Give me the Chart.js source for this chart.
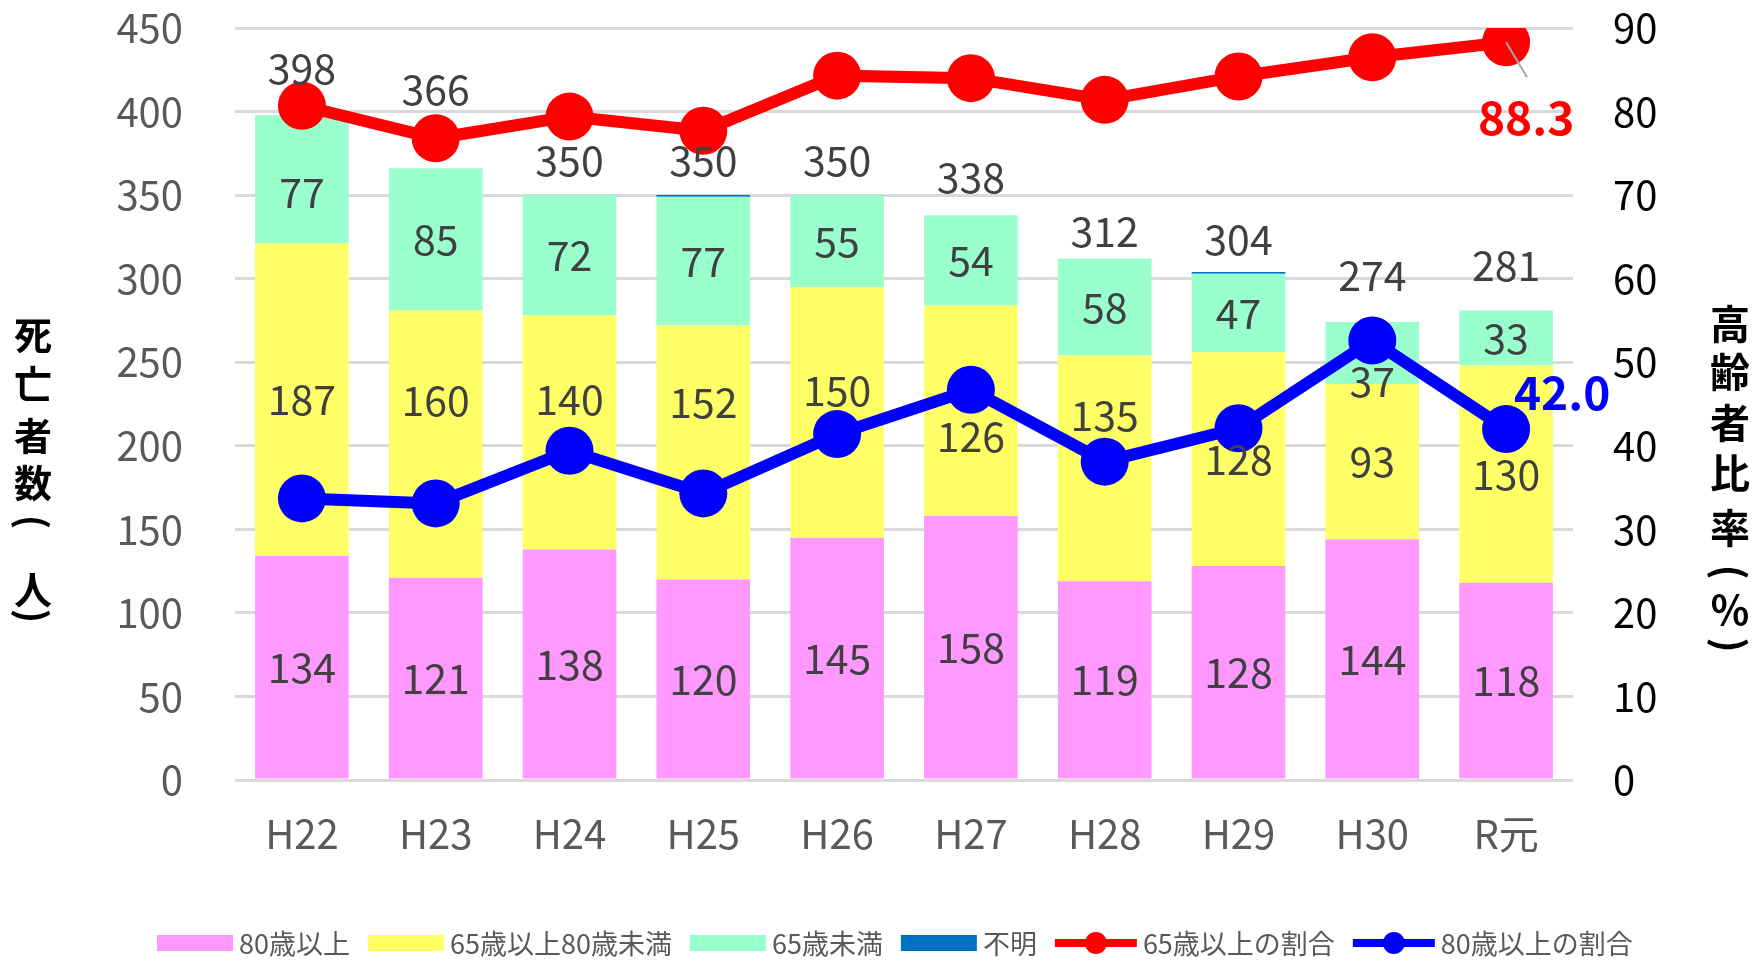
<!DOCTYPE html>
<html>
<head>
<meta charset="utf-8">
<script src="https://cdn.jsdelivr.net/npm/chart.js@4/dist/chart.umd.min.js"></script>
<style>
  html, body { margin: 0; padding: 0; background: #fff; }
  #wrap { width: 1754px; height: 965px; position: relative; }
</style>
</head>
<body>
<div id="wrap"><canvas id="chart"></canvas></div>
<script>
// data
const years = ['H22', 'H23', 'H24', 'H25', 'H26', 'H27', 'H28', 'H29', 'H30', 'R元'];
const over80 = [134, 121, 138, 120, 145, 158, 119, 128, 144, 118];
const from65to80 = [187, 160, 140, 152, 150, 126, 135, 128, 93, 130];
const under65 = [77, 85, 72, 77, 55, 54, 58, 47, 37, 33];
const unknown = [0, 0, 0, 1, 0, 0, 0, 1, 0, 0];
const totals = [398, 366, 350, 350, 350, 338, 312, 304, 274, 281];
const share65 = [80.7, 76.8, 79.4, 77.7, 84.3, 84.0, 81.4, 84.2, 86.5, 88.3];
const share80 = [33.7, 33.1, 39.4, 34.3, 41.4, 46.7, 38.1, 42.1, 52.6, 42.0];

// label nudges (px), the original had some labels dragged by hand
const totalLift = [46, 79, 35, 35, 35, 38, 27, 33, 47, 45];
const midShift = [0, -44, -33, -50, -22, 26, -53, 0, 0, 0];
const topShift = [13, 0, 0, 0, 0, 0, 0, 0, 28, 0];

const FONT = "'Noto Sans CJK JP', 'Noto Sans', sans-serif";

// segment + total labels, and the two end labels of the lines
const labelPlugin = {
  id: 'labels',
  afterDatasetsDraw(chart) {
    const ctx = chart.ctx;
    const y = chart.scales.y;
    ctx.save();
    ctx.textAlign = 'center';
    ctx.textBaseline = 'middle';
    ctx.font = '41px ' + FONT;
    ctx.fillStyle = '#404040';
    [0, 1, 2].forEach(di => {
      const meta = chart.getDatasetMeta(di);
      const vals = chart.data.datasets[di].data;
      meta.data.forEach((bar, i) => {
        if (!vals[i]) return;
        let cy = (bar.y + bar.base) / 2;
        if (di === 1) cy += midShift[i];
        if (di === 2) cy += topShift[i];
        ctx.fillText(String(vals[i]), bar.x, cy);
      });
    });
    const xs = chart.getDatasetMeta(0).data;
    totals.forEach((t, i) => {
      ctx.fillText(String(t), xs[i].x, y.getPixelForValue(t) - totalLift[i]);
    });

    // last points of the two lines
    const last = years.length - 1;
    const red = chart.getDatasetMeta(4).data[last];
    const blue = chart.getDatasetMeta(5).data[last];
    ctx.strokeStyle = '#a6a6a6';
    ctx.lineWidth = 2;
    ctx.beginPath();
    ctx.moveTo(red.x, red.y);
    ctx.lineTo(red.x + 21, red.y + 35);
    ctx.stroke();
    ctx.font = 'bold 46px ' + FONT;
    ctx.fillStyle = '#ff0000';
    ctx.fillText(share65[last].toFixed(1), red.x + 20, red.y + 75);
    ctx.fillStyle = '#0000ff';
    ctx.fillText(share80[last].toFixed(1), blue.x + 56, blue.y - 37);
    ctx.restore();
  }
};

// vertical axis titles, one upright character per line, brackets turned 90deg
const leftTitle = Array.from('死亡者数(人)');
const leftTitleY = [335, 384, 436, 483, 522, 590, 616];
const rightTitle = Array.from('高齢者比率(%)');
const rightTitleY = [324, 372, 423, 473, 528, 572, 610, 645];

function drawColumn(ctx, chars, ys, x) {
  chars.forEach((ch, i) => {
    if (ch === '(' || ch === ')') {
      ctx.save();
      ctx.translate(x, ys[i]);
      ctx.rotate(Math.PI / 2);
      ctx.fillText(ch, 0, 0);
      ctx.restore();
    } else {
      ctx.fillText(ch, x, ys[i]);
    }
  });
}

const titlePlugin = {
  id: 'titles',
  afterDraw(chart) {
    const ctx = chart.ctx;
    ctx.save();
    ctx.textAlign = 'center';
    ctx.textBaseline = 'middle';
    ctx.fillStyle = '#000';
    ctx.font = 'bold 38px ' + FONT;
    drawColumn(ctx, leftTitle, leftTitleY, 33);
    ctx.font = 'bold 40px ' + FONT;
    drawColumn(ctx, rightTitle, rightTitleY, 1730);
    ctx.restore();
  }
};

// legend drawn by hand so the line items get line + marker
const legendPlugin = {
  id: 'customLegend',
  afterDraw(chart) {
    const ctx = chart.ctx;
    const items = [
      { text: '80歳以上', color: '#ff99ff', type: 'box' },
      { text: '65歳以上80歳未満', color: '#ffff66', type: 'box' },
      { text: '65歳未満', color: '#99ffcc', type: 'box' },
      { text: '不明', color: '#0070c0', type: 'box' },
      { text: '65歳以上の割合', color: '#ff0000', type: 'line' },
      { text: '80歳以上の割合', color: '#0000ff', type: 'line' }
    ];
    const cy = 943;
    let x = 157;
    ctx.save();
    ctx.font = '27px ' + FONT;
    ctx.textBaseline = 'middle';
    ctx.textAlign = 'left';
    items.forEach(it => {
      if (it.type === 'box') {
        ctx.fillStyle = it.color;
        ctx.fillRect(x, cy - 8, 76, 16);
      } else {
        ctx.strokeStyle = it.color;
        ctx.lineWidth = 8;
        ctx.beginPath();
        ctx.moveTo(x, cy);
        ctx.lineTo(x + 82, cy);
        ctx.stroke();
        ctx.fillStyle = it.color;
        ctx.beginPath();
        ctx.arc(x + 41, cy, 11, 0, Math.PI * 2);
        ctx.fill();
      }
      x += (it.type === 'box' ? 76 : 82) + 6;
      ctx.fillStyle = '#595959';
      ctx.fillText(it.text, x, cy + 1);
      x += ctx.measureText(it.text).width + 18;
    });
    ctx.restore();
  }
};

new Chart(document.getElementById('chart'), {
  data: {
    labels: years,
    datasets: [
      { type: 'bar', label: '80歳以上', data: over80, backgroundColor: '#ff99ff', yAxisID: 'y', order: 1 },
      { type: 'bar', label: '65歳以上80歳未満', data: from65to80, backgroundColor: '#ffff66', yAxisID: 'y', order: 1 },
      { type: 'bar', label: '65歳未満', data: under65, backgroundColor: '#99ffcc', yAxisID: 'y', order: 1 },
      { type: 'bar', label: '不明', data: unknown, backgroundColor: '#0070c0', yAxisID: 'y', order: 1 },
      {
        type: 'line', label: '65歳以上の割合', data: share65, yAxisID: 'y1', order: 0,
        borderColor: '#ff0000', backgroundColor: '#ff0000', borderWidth: 12,
        pointRadius: 24, pointBackgroundColor: '#ff0000', pointBorderWidth: 0
      },
      {
        type: 'line', label: '80歳以上の割合', data: share80, yAxisID: 'y1', order: 0,
        borderColor: '#0000ff', backgroundColor: '#0000ff', borderWidth: 12,
        pointRadius: 24, pointBackgroundColor: '#0000ff', pointBorderWidth: 0
      }
    ]
  },
  options: {
    responsive: true,
    maintainAspectRatio: false,
    animation: false,
    layout: { padding: { top: 28, left: 0, right: 0, bottom: 0 } },
    datasets: {
      bar: { barPercentage: 0.7, categoryPercentage: 1.0 }
    },
    plugins: {
      legend: { display: false },
      tooltip: { enabled: false }
    },
    scales: {
      x: {
        stacked: true,
        grid: { display: false },
        border: { display: false },
        ticks: { color: '#595959', font: { family: FONT, size: 40 }, padding: 22 },
        afterFit(scale) { scale.height = 185; }
      },
      y: {
        stacked: true,
        position: 'left',
        min: 0,
        max: 450,
        // tick marks are invisible, they only push the labels away from the plot
        ticks: { stepSize: 50, color: '#595959', font: { family: FONT, size: 40 }, padding: 4 },
        grid: { color: '#d9d9d9', lineWidth: 3, drawTicks: true, tickLength: 48, tickColor: 'rgba(0,0,0,0)' },
        border: { display: false },
        afterFit(scale) { scale.width = 235; }
      },
      y1: {
        position: 'right',
        min: 0,
        max: 90,
        ticks: { stepSize: 10, color: '#000000', font: { family: FONT, size: 40 }, padding: 4 },
        grid: { drawOnChartArea: false, drawTicks: true, tickLength: 36, tickColor: 'rgba(0,0,0,0)' },
        border: { display: false },
        afterFit(scale) { scale.width = 181; }
      }
    }
  },
  plugins: [labelPlugin, titlePlugin, legendPlugin]
});
</script>
</body>
</html>
